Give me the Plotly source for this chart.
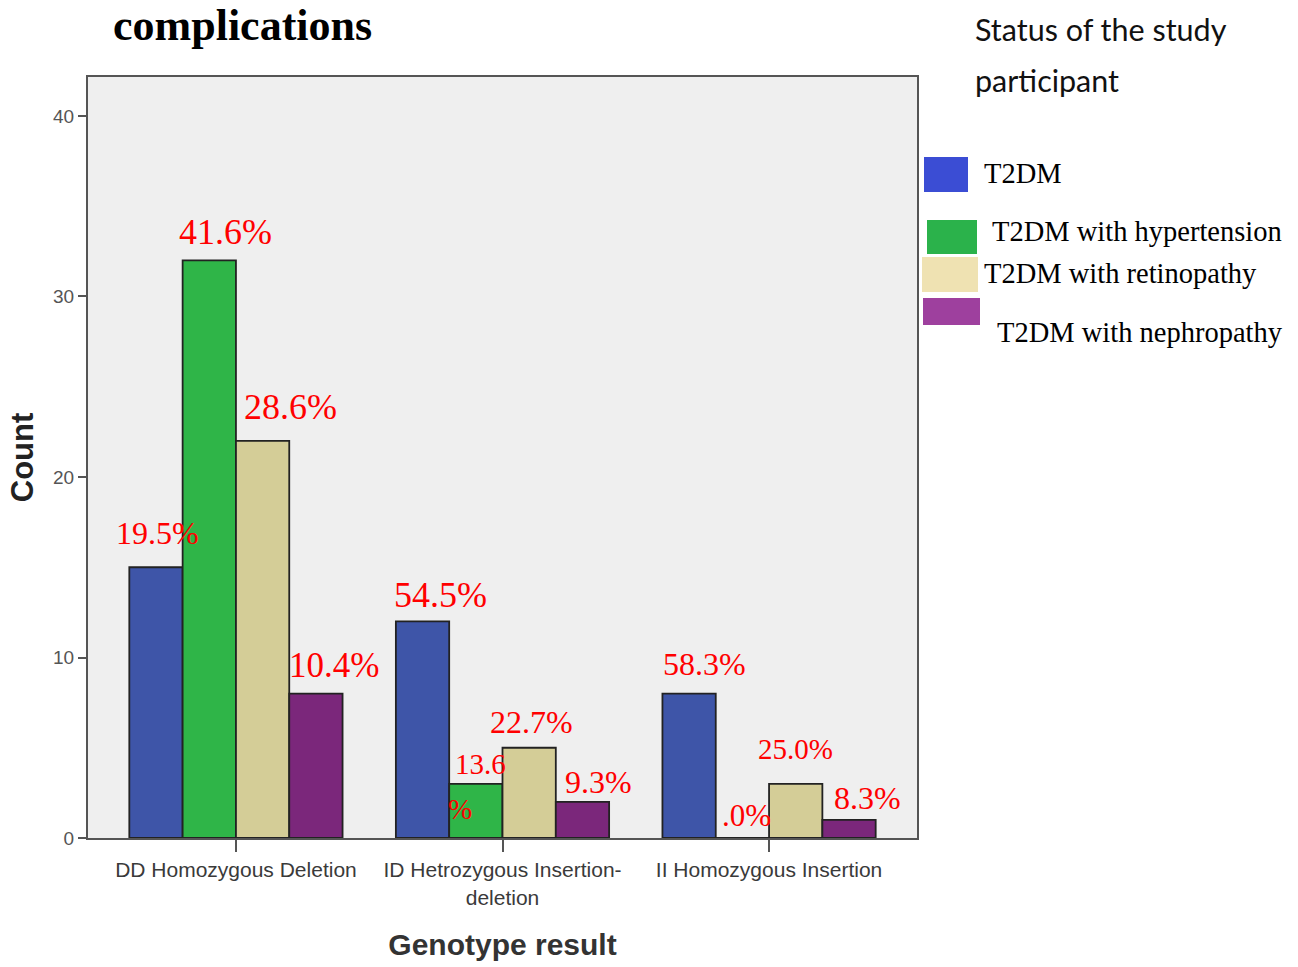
import plotly.graph_objects as go

# ---------------- data ----------------
genotypes = ["DD Homozygous Deletion",
             "ID Hetrozygous Insertion-<br>deletion",
             "II Homozygous Insertion"]
series_names = ["T2DM", "T2DM with hypertension",
                "T2DM with retinopathy", "T2DM with nephropathy"]
t2dm = [15, 12, 8]
hypertension = [32, 3, 0]
retinopathy = [22, 5, 3]
nephropathy = [8, 2, 1]
y_ticks = [0, 10, 20, 30, 40]

# percentage labels as printed on the original figure
label_texts = ["19.5%", "41.6%", "28.6%", "10.4%",
               "54.5%", "13.6", "%", "22.7%", "9.3%",
               "58.3%", ".0%", "25.0%", "8.3%"]
label_x = [-0.296, -0.038, 0.206, 0.368,
           0.769, 0.916, 0.841, 1.107, 1.362,
           1.756, 1.914, 2.101, 2.371]
label_y = [16.9, 33.57, 23.9, 9.53,
           13.46, 4.10, 1.61, 6.43, 3.10,
           9.64, 1.27, 4.93, 2.22]
label_size = [32, 36, 36, 35, 36, 29, 29, 32, 32, 32, 31, 29, 32]

# ---------------- styles ----------------
bar_colors = ["#3e55a8", "#2fb548", "#d4cd97", "#7b277b"]
legend_colors = ["#3b4dd4", "#2bb24b", "#efe2b2", "#9e409e"]

W, H = 1298, 967
L, R, T, B = 88, 917, 77, 838


def px(xp):
    return (xp - L) / (R - L)


def py(yp):
    return (B - yp) / (B - T)


fig = go.Figure()
for name, vals, col in zip(series_names,
                           [t2dm, hypertension, retinopathy, nephropathy],
                           bar_colors):
    fig.add_trace(go.Bar(x=genotypes, y=vals, name=name,
                         marker=dict(color=col, line=dict(color="#222222", width=1.8)),
                         showlegend=False))

annotations = []
for t, x, y, s in zip(label_texts, label_x, label_y, label_size):
    annotations.append(dict(x=x, y=y, xref="x", yref="y", text=t, showarrow=False,
                            xanchor="center", yanchor="middle",
                            font=dict(family="Liberation Serif, Times New Roman, serif",
                                      size=s, color="#ff0000")))

# title fragment
annotations.append(dict(x=px(242), y=py(25), xref="paper", yref="paper",
                        text="<b>complications</b>", showarrow=False,
                        xanchor="center", yanchor="middle",
                        font=dict(family="Liberation Serif, Times New Roman, serif",
                                  size=44, color="#000000")))

# legend title (two lines)
for line, ly in zip(["Status of the study", "participant"], [29, 80]):
    annotations.append(dict(x=px(973), y=py(ly), xref="paper", yref="paper",
                            text=line, showarrow=False,
                            xanchor="left", yanchor="middle", align="left",
                            font=dict(family="Lato, Open Sans, sans-serif",
                                      size=30.5, color="#111111")))

# legend entries
swatches = [(924, 968, 157, 192), (927, 977, 220, 254),
            (922, 978, 257, 292), (923, 980, 298, 325)]
text_pos = [(982, 173), (990, 231), (982, 273), (995, 332)]
shapes = []
for (x0, x1, y0, y1), col, name, (tx, ty) in zip(swatches, legend_colors, series_names, text_pos):
    shapes.append(dict(type="rect", xref="paper", yref="paper",
                       x0=px(x0), x1=px(x1), y0=py(y1), y1=py(y0),
                       fillcolor=col, line=dict(width=0)))
    annotations.append(dict(x=px(tx), y=py(ty), xref="paper", yref="paper",
                            text=name, showarrow=False, xanchor="left", yanchor="middle",
                            font=dict(family="Liberation Serif, Times New Roman, serif",
                                      size=28.5, color="#000000")))

fig.update_layout(
    width=W, height=H, autosize=False,
    margin=dict(l=L, r=W - R, t=T, b=H - B, pad=0),
    paper_bgcolor="#ffffff", plot_bgcolor="#efefef",
    barmode="group", bargap=0.2, bargroupgap=0,
    annotations=annotations, shapes=shapes,
    xaxis=dict(range=[-0.555, 2.555], showgrid=False, zeroline=False, automargin=False,
               showline=True, linecolor="#555555", linewidth=2, mirror=True,
               ticks="outside", ticklen=12, tickwidth=2, tickcolor="#555555",
               tickfont=dict(family="Liberation Sans, Arial, sans-serif", size=21, color="#3a3a3a"),
               title=dict(text="<b>Genotype result</b>", standoff=26,
                          font=dict(family="Liberation Sans, Arial, sans-serif", size=30, color="#333333"))),
    yaxis=dict(range=[0, 42.16], tickvals=y_ticks, showgrid=False, zeroline=False, automargin=False,
               showline=True, linecolor="#555555", linewidth=2, mirror=True,
               ticks="outside", ticklen=8, tickwidth=2, tickcolor="#555555",
               tickfont=dict(family="Liberation Sans, Arial, sans-serif", size=19, color="#555555"),
               title=dict(text="<b>Count</b>", standoff=10,
                          font=dict(family="Liberation Sans, Arial, sans-serif", size=31, color="#222222"))),
)

fig.write_html("out.html")
